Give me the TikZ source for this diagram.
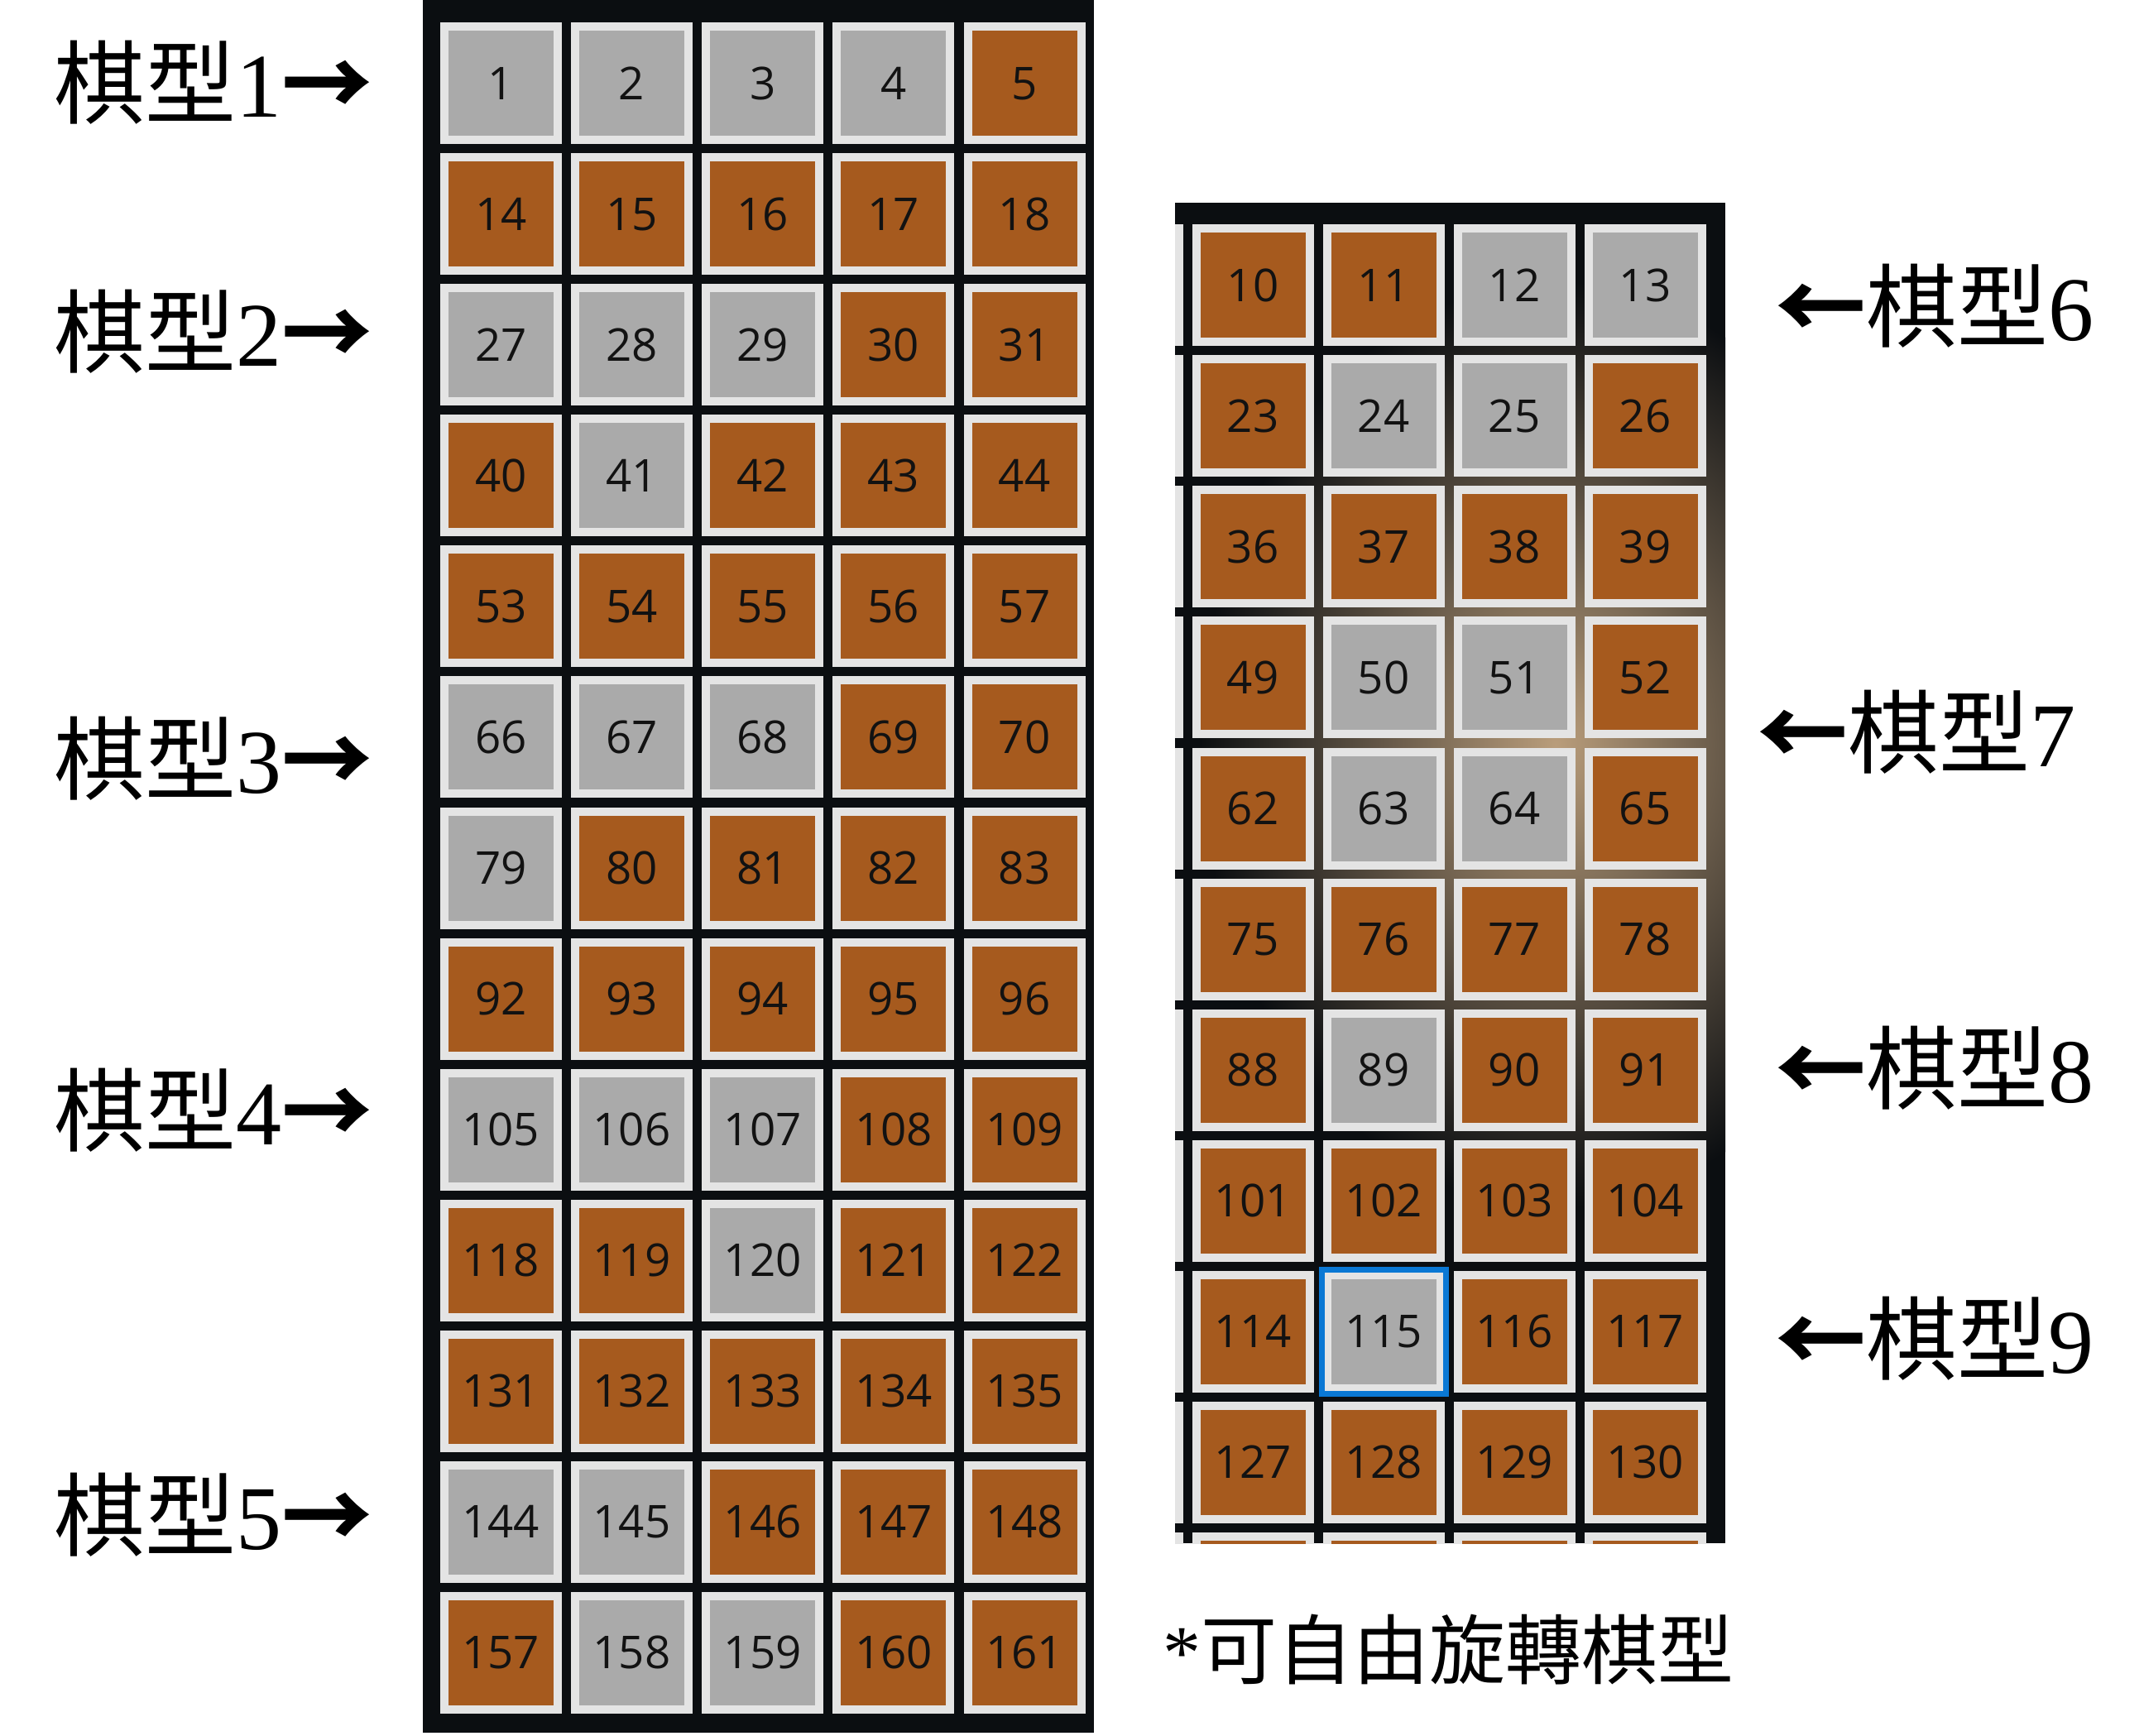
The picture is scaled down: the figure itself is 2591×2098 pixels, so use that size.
\documentclass[tikz,border=0pt]{standalone}
\usepackage{fontspec}
\setmainfont{Liberation Serif}
\newfontfamily\cjk{Noto Sans CJK TC}
\newfontfamily\cellfont{Open Sans}
\newfontfamily\tnr{Liberation Serif}
\definecolor{panelbk}{HTML}{0B0E11}
\definecolor{cellrim}{HTML}{E4E4E4}
\definecolor{fillG}{HTML}{AAAAAA}
\definecolor{fillO}{HTML}{A65A1E}
\definecolor{celltext}{HTML}{121212}
\definecolor{hlblue}{HTML}{0A78D4}
\definecolor{flower}{HTML}{B99D7B}
\tikzset{
  cellbase/.style={draw=cellrim, line width=3pt, minimum size=41.1pt, inner sep=0pt,
    font=\cellfont\fontsize{16.4pt}{18pt}\selectfont, text=celltext},
  cellG/.style={cellbase, fill=fillG},
  cellO/.style={cellbase, fill=fillO},
  lbl/.style={anchor=base west, inner sep=0pt, font=\fontsize{33pt}{36pt}\selectfont},
  note/.style={anchor=base west, inner sep=0pt, font=\fontsize{27.6pt}{30pt}\selectfont},
}
\begin{document}
\begin{tikzpicture}[x=0.3pt, y=-0.3pt]
\useasboundingbox (0,0) rectangle (2591,2098);
\fill[white] (0,0) rectangle (2591,2098);

% ---------- left panel ----------
\fill[panelbk] (511,0) rectangle (1322,2094);
\foreach \r/\lst in {0/{G,G,G,G,O},1/{O,O,O,O,O},2/{G,G,G,O,O},3/{O,G,O,O,O},
  4/{O,O,O,O,O},5/{G,G,G,O,O},6/{G,O,O,O,O},7/{O,O,O,O,O},8/{G,G,G,O,O},
  9/{O,O,G,O,O},10/{O,O,O,O,O},11/{G,G,O,O,O},12/{O,G,G,O,O}}{
  \foreach \k [count=\c from 0] in \lst {
    \pgfmathtruncatemacro\n{13*\r+1+\c}
    \node[cell\k] (L\n) at ({605.3+158.2*\c},{101+158*\r}) {\n};
  }
}

% ---------- right panel ----------
\begin{scope}
\clip (1420,245) rectangle (2085,1865);
\fill[panelbk] (1420,245) rectangle (2085,1865);
\shade[inner color=flower, outer color=panelbk] (1880,900) ellipse [x radius=430, y radius=560];
% partial cells of the hidden column on the left and the hidden row below
\foreach \r in {0,...,10} {
  \node[cellO] (P\r) at ({1514-158},{345+158*\r}) {};
}
\foreach \c in {0,...,3} {
  \node[cellO] (B\c) at ({1514+158*\c},{345+158*10}) {};
}
\end{scope}
\foreach \r/\lst in {0/{O,O,G,G},1/{O,G,G,O},2/{O,O,O,O},3/{O,G,G,O},
  4/{O,G,G,O},5/{O,O,O,O},6/{O,G,O,O},7/{O,O,O,O},8/{O,G,O,O},9/{O,O,O,O}}{
  \foreach \k [count=\c from 0] in \lst {
    \pgfmathtruncatemacro\n{13*\r+10+\c}
    \node[cell\k] (R\n) at ({1514+158*\c},{345+158*\r}) {\n};
  }
}
% selected cell 115
\draw[hlblue, line width=2.1pt] ([shift={(-1.5,-1.5)}]R115.north west) rectangle ([shift={(1.5,1.5)}]R115.south east);

% ---------- labels ----------
\node[lbl] (m1) at (65,142)  {\cjk 棋型\tnr 1\cjk\bfseries →};
\node[lbl] (m2) at (65,443)  {\cjk 棋型\tnr 2\cjk\bfseries →};
\node[lbl] (m3) at (65,958)  {\cjk 棋型\tnr 3\cjk\bfseries →};
\node[lbl] (m4) at (65,1383) {\cjk 棋型\tnr 4\cjk\bfseries →};
\node[lbl] (m5) at (65,1872) {\cjk 棋型\tnr 5\cjk\bfseries →};
\node[lbl] (m6) at (2145,412)  {\cjk{\bfseries ←}棋型\tnr 6};
\node[lbl] (m7) at (2123,927)  {\cjk{\bfseries ←}棋型\tnr 7};
\node[lbl] (m8) at (2145,1332) {\cjk{\bfseries ←}棋型\tnr 8};
\node[lbl] (m9) at (2145,1659) {\cjk{\bfseries ←}棋型\tnr 9};
\node[note] (fn) at (1405,2028) {\tnr *\cjk 可自由旋轉棋型};
\end{tikzpicture}
\end{document}
